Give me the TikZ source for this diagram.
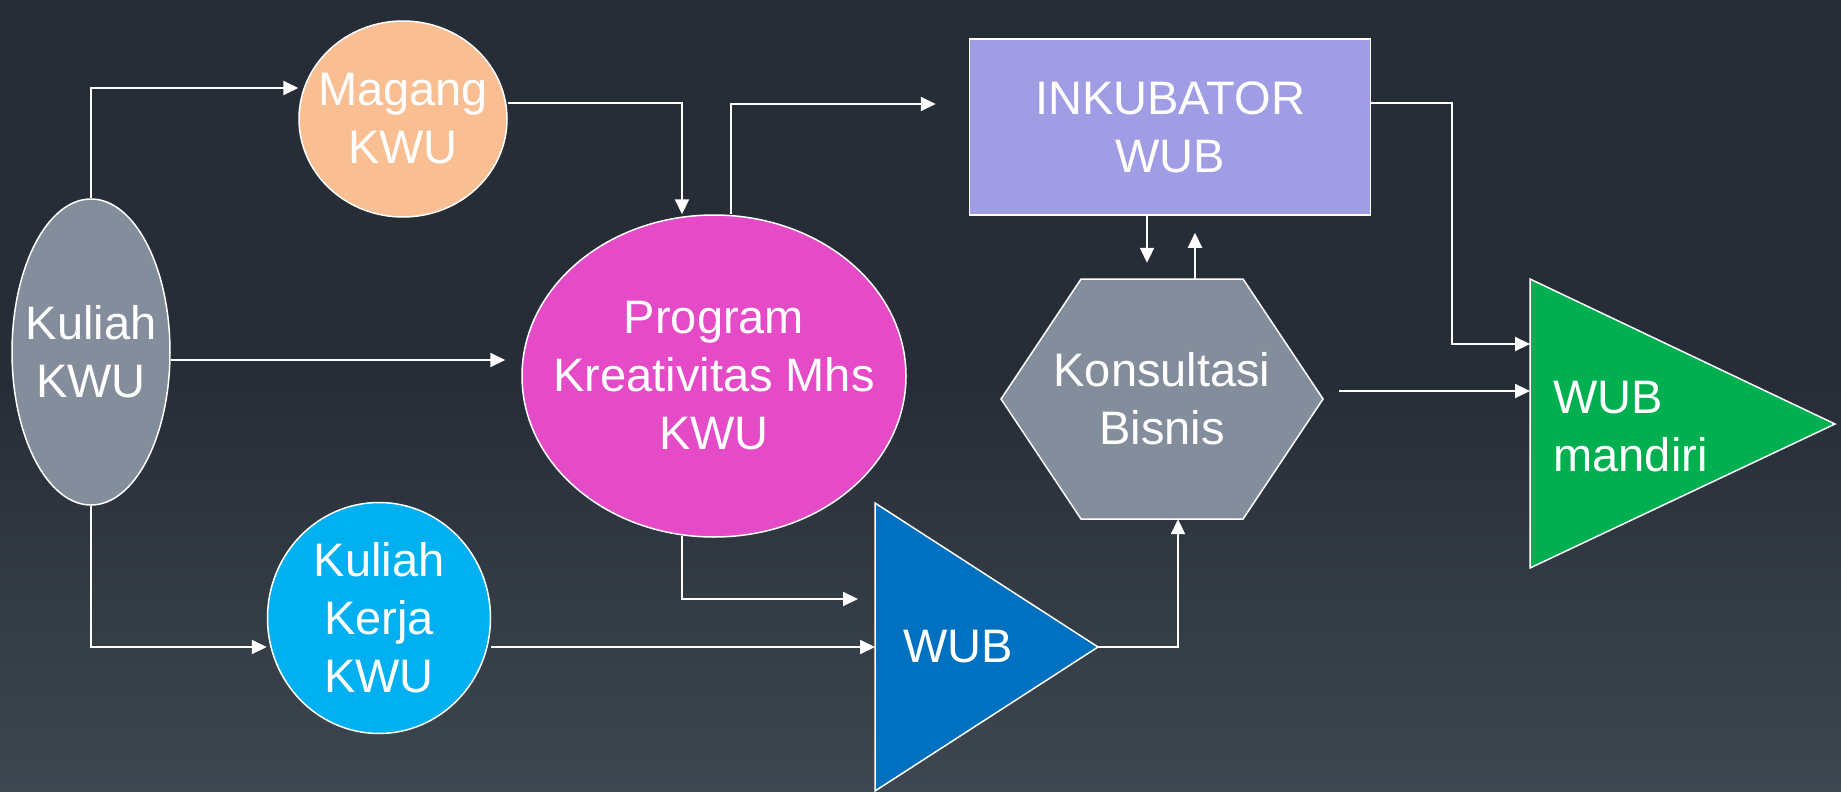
\documentclass[tikz,border=0pt]{standalone}
\usepackage{fontspec}
\setmainfont{Liberation Sans}
\usetikzlibrary{shapes.geometric,arrows.meta,calc}
\definecolor{bgtop}{HTML}{262D36}
\definecolor{bgbot}{HTML}{3E4751}
\definecolor{grayfill}{HTML}{848D9B}
\definecolor{peach}{HTML}{F9BF93}
\definecolor{magent}{HTML}{E54AC7}
\definecolor{skyblue}{HTML}{00B0F0}
\definecolor{lavender}{HTML}{A09DE4}
\definecolor{wubblue}{HTML}{0070C0}
\definecolor{wubgreen}{HTML}{00B050}
\begin{document}
\begin{tikzpicture}[x=1pt,y=-1pt,
  txt/.style={text=white,align=center,font=\fontsize{47}{58}\selectfont},
  bub/.style={txt,ellipse,draw=white,line width=1.5pt,inner sep=-45pt},
  arr/.style={draw=white,line width=2pt,-{Triangle[length=15pt,width=14pt]}}]
\useasboundingbox (0,0) rectangle (1841,792);
\fill[bgtop] (0,0) rectangle (1841,792);
\fill[top color=bgtop,bottom color=bgbot] (0,380) rectangle (1841,792);

\node[bub,fill=grayfill,minimum width=158,minimum height=306](kul) at (91,352){Kuliah\\KWU};
\node[bub,fill=peach,minimum width=208,minimum height=196](mag) at (403,119){Magang\\KWU};
\node[bub,fill=magent,minimum width=384,minimum height=322](pkm) at (714,376){Program\\Kreativitas Mhs\\KWU};
\node[bub,fill=skyblue,minimum width=223,minimum height=231](kkn) at (379,618){Kuliah\\Kerja\\KWU};
\node[txt,draw=white,line width=1.5pt,fill=lavender,minimum width=401,minimum height=176](ink) at (1170,127){INKUBATOR\\WUB};

\draw[white,line width=1.5pt,fill=grayfill] (1081,279) -- (1243,279) -- (1323,399)
  -- (1243,519) -- (1081,519) -- (1001,399) -- cycle;
\node[txt,minimum width=322,minimum height=240](kons) at (1162,399){Konsultasi\\Bisnis};

\draw[white,line width=1.5pt,fill=wubblue] (875,503) coordinate (wub-t) -- (1098,647) coordinate (wub-a)
  -- (875,791) -- cycle;
\node[txt,anchor=west](wub) at (900,647){WUB};
\draw[white,line width=1.5pt,fill=wubgreen] (1530,279) coordinate (mand-t) -- (1835,424)
  -- (1530,568) -- cycle;
\node[txt,align=left,anchor=west](mand) at (1550,427){WUB\\mandiri};

\draw[arr] (kul.north) |- ($(mag.west)+(0,-31)$);
\draw[arr] ($(kul.east)+(0,8)$) -- ($(pkm.west |- kul.east)+(-16,8)$);
\draw[arr] (kul.south) |- ($(kkn.west)+(0,29)$);
\draw[arr] ($(mag.east)+(0,-16)$) -| ($(pkm.north)+(-32,0)$);
\draw[arr] ($(pkm.north)+(17,0)$) |- ($(ink.west)+(-33,-23)$);
\draw[arr] ($(ink.south)+(-23,0)$) -- ($(ink.south |- kons.north)+(-23,-16)$);
\draw[arr] ($(kons.north)+(33,0)$) -- ($(kons.north |- ink.south)+(33,17)$);
\draw[arr] ($(pkm.south)+(-32,-2)$) |- ($(wub-t)+(-17,96)$);
\draw[arr] ($(kkn.east)+(0,29)$) -- (wub-t |- wub-a);
\draw[arr] (wub-a) -| ($(kons.south)+(16,0)$);
\draw[arr] ($(ink.east)+(0,-24)$) -- ++(81,0) |- ($(mand-t)+(0,65)$);
\draw[arr] ($(kons.east)+(16,-8)$) -- ($(mand-t)+(0,112)$);

\end{tikzpicture}
\end{document}
